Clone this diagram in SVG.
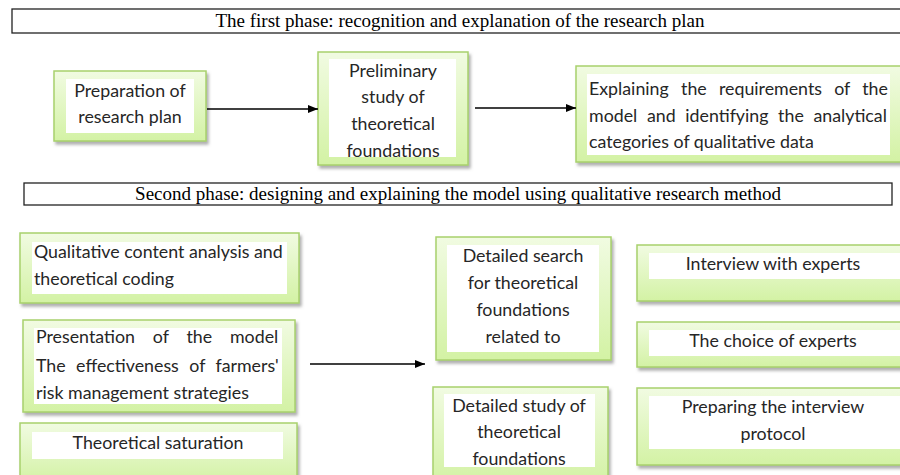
<svg xmlns="http://www.w3.org/2000/svg" width="900" height="475" viewBox="0 0 900 475">
<defs>
<linearGradient id="g" x1="0" y1="0" x2="0" y2="1">
<stop offset="0" stop-color="#f1fbe2"/>
<stop offset="1" stop-color="#d3f2a4"/>
</linearGradient>
<filter id="sh" x="-10%" y="-10%" width="130%" height="140%">
<feDropShadow dx="2" dy="3" stdDeviation="1.5" flood-color="#7a7a7a" flood-opacity="0.6"/>
</filter>
<marker id="ah" markerWidth="10" markerHeight="8" refX="10" refY="4" orient="auto" markerUnits="userSpaceOnUse">
<path d="M0,0 L10,4 L0,8 Z" fill="#000"/>
</marker>
<style>
.o{fill:url(#g);stroke:#a8d16c;stroke-width:1.5;filter:url(#sh)}
.i{fill:#fff}
.t{font-family:"Lato","Open Sans",sans-serif;font-size:17.8px;fill:#262626}
.c{text-anchor:middle}
.h{fill:#fff;stroke:#222;stroke-width:1.3}
.ht{font-family:"Liberation Serif","Times New Roman",serif;font-size:19px;fill:#000;text-anchor:middle}
.l{stroke:#000;stroke-width:1.5;fill:none;marker-end:url(#ah)}
</style>
</defs>
<rect width="900" height="475" fill="#fff"/>
<g id="header1">
<rect class="h" x="12" y="9" width="895" height="24"/>
<text class="ht" x="460" y="27">The first phase: recognition and explanation of the research plan</text>
</g>
<g id="header2">
<rect class="h" x="24" y="183" width="868" height="22"/>
<text class="ht" x="458" y="200">Second phase: designing and explaining the model using qualitative research method</text>
</g>
<g id="preparation">
<rect class="o" x="54" y="71" width="152" height="70"/>
<rect class="i" x="66" y="79" width="128" height="54"/>
<text class="t c" x="130" y="97">Preparation of</text>
<text class="t c" x="130" y="123">research plan</text>
</g>
<g id="preliminary">
<rect class="o" x="318" y="52" width="150" height="113"/>
<rect class="i" x="329" y="59" width="127" height="98"/>
<text class="t c" x="393" y="77">Preliminary</text>
<text class="t c" x="393" y="103">study of</text>
<text class="t c" x="393" y="130">theoretical</text>
<text class="t c" x="393" y="157">foundations</text>
</g>
<g id="explaining">
<rect class="o" x="576" y="66" width="330" height="96"/>
<rect class="i" x="587" y="74" width="303" height="81"/>
<text class="t" x="589" y="95" word-spacing="7.7">Explaining the requirements of the</text>
<text class="t" x="589" y="122" word-spacing="5.1">model and identifying the analytical</text>
<text class="t" x="589" y="148">categories of qualitative data</text>
</g>
<g id="qualitative">
<rect class="o" x="20" y="233" width="279" height="70"/>
<rect class="i" x="32" y="242" width="255" height="52"/>
<text class="t" x="34" y="258">Qualitative content analysis and</text>
<text class="t" x="34" y="285">theoretical coding</text>
</g>
<g id="presentation">
<rect class="o" x="23" y="320" width="272" height="92"/>
<rect class="i" x="34" y="328" width="248" height="76"/>
<text class="t" x="36" y="343" word-spacing="13.3">Presentation of the model</text>
<text class="t" x="36" y="372" word-spacing="5.9">The effectiveness of farmers'</text>
<text class="t" x="36" y="399">risk management strategies</text>
</g>
<g id="saturation">
<rect class="o" x="20" y="423" width="277" height="60"/>
<rect class="i" x="32" y="432" width="251" height="27"/>
<text class="t c" x="158" y="449">Theoretical saturation</text>
</g>
<g id="search">
<rect class="o" x="436" y="237" width="175" height="123"/>
<rect class="i" x="447" y="245" width="152" height="107"/>
<text class="t c" x="523" y="262">Detailed search</text>
<text class="t c" x="523" y="289">for theoretical</text>
<text class="t c" x="523" y="316">foundations</text>
<text class="t c" x="523" y="343">related to</text>
</g>
<g id="study">
<rect class="o" x="433" y="387" width="175" height="96"/>
<rect class="i" x="444" y="394" width="151" height="73"/>
<text class="t c" x="519" y="412">Detailed study of</text>
<text class="t c" x="519" y="438">theoretical</text>
<text class="t c" x="519" y="465">foundations</text>
</g>
<g id="interview">
<rect class="o" x="637" y="245" width="270" height="56"/>
<rect class="i" x="649" y="253" width="256" height="26"/>
<text class="t c" x="773" y="270">Interview with experts</text>
</g>
<g id="choice">
<rect class="o" x="637" y="322" width="270" height="45"/>
<rect class="i" x="649" y="330" width="256" height="26"/>
<text class="t c" x="773" y="347">The choice of experts</text>
</g>
<g id="protocol">
<rect class="o" x="637" y="388" width="270" height="77"/>
<rect class="i" x="649" y="396" width="256" height="53"/>
<text class="t c" x="773" y="413">Preparing the interview</text>
<text class="t c" x="773" y="440">protocol</text>
</g>
<g id="connectors">
<line class="l" x1="207" y1="109" x2="318" y2="109"/>
<line class="l" x1="475" y1="108" x2="576" y2="108"/>
<line class="l" x1="310" y1="364" x2="425" y2="364"/>
</g>
</svg>
